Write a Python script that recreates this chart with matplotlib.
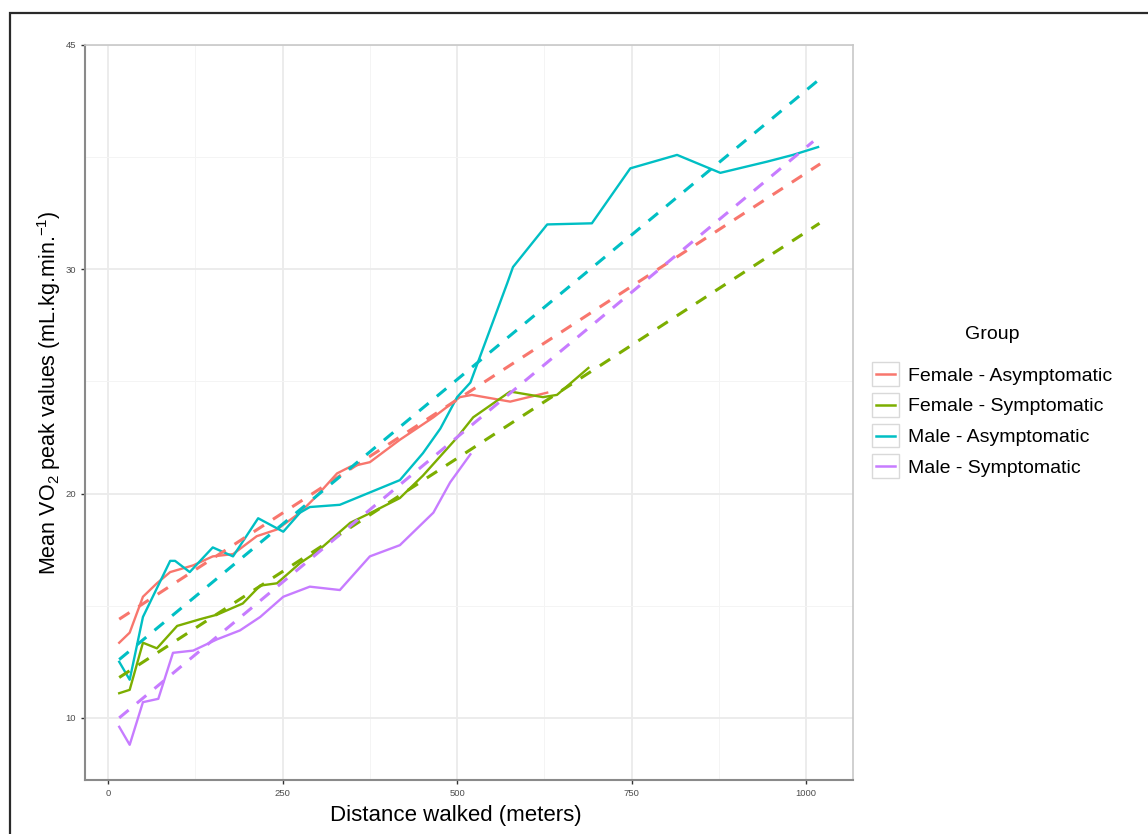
import numpy as np
import matplotlib
matplotlib.use("Agg")
import matplotlib.pyplot as plt
from matplotlib.patches import Rectangle
from matplotlib.lines import Line2D
from matplotlib.legend_handler import HandlerBase

plt.rcParams['font.family'] = ['Liberation Sans', 'DejaVu Sans']
plt.rcParams['mathtext.fontset'] = 'custom'
plt.rcParams['mathtext.rm'] = 'Liberation Sans'

groups = ["Female - Asymptomatic", "Female - Symptomatic",
          "Male - Asymptomatic", "Male - Symptomatic"]
colors = ["#F8766D", "#7CAE00", "#00BFC4", "#C77CFF"]

# observed mean VO2 peak (solid lines)
fa_x = [16, 31, 50, 70, 89, 122, 150, 179, 213, 242, 275, 299, 328, 347, 375, 418, 466, 504, 521, 576, 629]
fa_y = [13.35, 13.8, 15.4, 16.0, 16.5, 16.8, 17.2, 17.3, 18.1, 18.4, 19.15, 19.9, 20.9, 21.2, 21.4, 22.4, 23.4, 24.3, 24.4, 24.1, 24.5]

fs_x = [16, 31, 50, 70, 99, 132, 156, 193, 218, 242, 275, 299, 347, 380, 418, 451, 500, 523, 576, 623, 643, 688]
fs_y = [11.1, 11.25, 13.35, 13.1, 14.1, 14.4, 14.6, 15.1, 15.9, 16.0, 16.9, 17.4, 18.7, 19.2, 19.8, 20.8, 22.5, 23.4, 24.55, 24.3, 24.4, 25.6]

ma_x = [16, 31, 50, 89, 96, 117, 150, 179, 215, 251, 275, 289, 332, 418, 451, 476, 500, 519, 572, 580, 629, 693, 748, 815, 877, 944, 981, 1017]
ma_y = [12.5, 11.7, 14.5, 17.0, 17.0, 16.5, 17.6, 17.2, 18.9, 18.3, 19.15, 19.4, 19.5, 20.6, 21.8, 22.9, 24.3, 24.95, 29.4, 30.1, 32.0, 32.05, 34.5, 35.1, 34.3, 34.8, 35.1, 35.45]

ms_x = [16, 31, 50, 72, 93, 122, 156, 189, 218, 251, 289, 332, 375, 418, 466, 490, 519]
ms_y = [9.6, 8.8, 10.7, 10.85, 12.9, 13.0, 13.5, 13.9, 14.5, 15.4, 15.85, 15.7, 17.2, 17.7, 19.15, 20.5, 21.75]

# linear fits (dashed lines): start/end
fa_fit_x = [16, 1020]
fa_fit_y = [14.4, 34.7]
fs_fit_x = [16, 1019]
fs_fit_y = [11.8, 32.05]
ma_fit_x = [16, 1020]
ma_fit_y = [12.6, 38.5]
ms_fit_x = [16, 1010]
ms_fit_y = [10.0, 35.7]

x_ticks = [0, 250, 500, 750, 1000]
x_ticklabels = ["0", "250", "500", "750", "1000"]
y_ticks = [10, 20, 30, 40]
y_ticklabels = ["10", "20", "30", "45"]

obs = [(fa_x, fa_y), (fs_x, fs_y), (ma_x, ma_y), (ms_x, ms_y)]
fits = [(fa_fit_x, fa_fit_y), (fs_fit_x, fs_fit_y), (ma_fit_x, ma_fit_y), (ms_fit_x, ms_fit_y)]

fig = plt.figure(figsize=(11.48, 8.34), dpi=100)
fig.patch.set_facecolor("white")

# outer frame of the image
fig.add_artist(Rectangle((10 / 1148, -0.1), 1.2, 1 - 13 / 834 + 0.1,
                         transform=fig.transFigure, fill=False,
                         edgecolor="#2a2a2a", linewidth=1.6, clip_on=False))

ax = fig.add_axes([85 / 1148, (834 - 780) / 834, (853 - 85) / 1148, (780 - 45) / 834])
ax.set_xlim(-33, 1067)
ax.set_ylim(7.23, 40.0)

ax.set_xticks(x_ticks)
ax.set_xticklabels(x_ticklabels)
ax.set_yticks(y_ticks)
ax.set_yticklabels(y_ticklabels)
ax.set_xticks([125, 375, 625, 875], minor=True)
ax.set_yticks([15, 25, 35], minor=True)
ax.grid(which="major", color="#EBEBEB", linewidth=1.3)
ax.grid(which="minor", color="#F4F4F4", linewidth=0.7)
ax.set_axisbelow(True)
ax.tick_params(which="major", labelsize=6.8, labelcolor="#4D4D4D", color="#333333",
               length=3, width=1)
ax.tick_params(which="minor", length=0)

for s in ["left", "bottom"]:
    ax.spines[s].set_color("#8a8a8a")
    ax.spines[s].set_linewidth(1.5)
for s in ["top", "right"]:
    ax.spines[s].set_color("#C8C8C8")
    ax.spines[s].set_linewidth(1.2)

for (x, y), c in zip(obs, colors):
    ax.plot(x, y, color=c, linewidth=1.7, solid_joinstyle="round")
for (x, y), c in zip(fits, colors):
    ax.plot(x, y, color=c, linewidth=2.2, linestyle=(0, (4, 3.5)))

ax.set_xlabel("Distance walked (meters)", fontsize=16)
ax.xaxis.set_label_coords((456 - 85) / 768, (780 - 805) / 735)
ax.set_ylabel(r"Mean VO$_2$ peak values (mL.kg.min.$^{-1}$)", fontsize=15.5)
ax.yaxis.set_label_coords((63 - 85) / 768, (780 - 393) / 735)


class BoxLineHandler(HandlerBase):
    def create_artists(self, legend, orig_handle, xdescent, ydescent,
                       width, height, fontsize, trans):
        box = Rectangle((-xdescent, -ydescent), width, height,
                        facecolor="white", edgecolor="#D9D9D9", linewidth=1.0,
                        transform=trans)
        ln = Line2D([-xdescent + 0.15 * width, -xdescent + 0.85 * width],
                    [-ydescent + height / 2, -ydescent + height / 2],
                    color=orig_handle.get_color(), linewidth=1.8, transform=trans)
        return [box, ln]


handles = [Line2D([], [], color=c) for c in colors]
leg = fig.legend(handles, groups, title="Group", fontsize=14, title_fontsize=14,
                 loc="upper left", bbox_to_anchor=(864 / 1148, 1 - 318 / 834),
                 frameon=False, handlelength=1.4, handleheight=1.5,
                 labelspacing=0.36, handletextpad=0.45, borderaxespad=0,
                 handler_map={Line2D: BoxLineHandler()})
leg._legend_box.sep = 14

fig.savefig("out.png", dpi=100)
